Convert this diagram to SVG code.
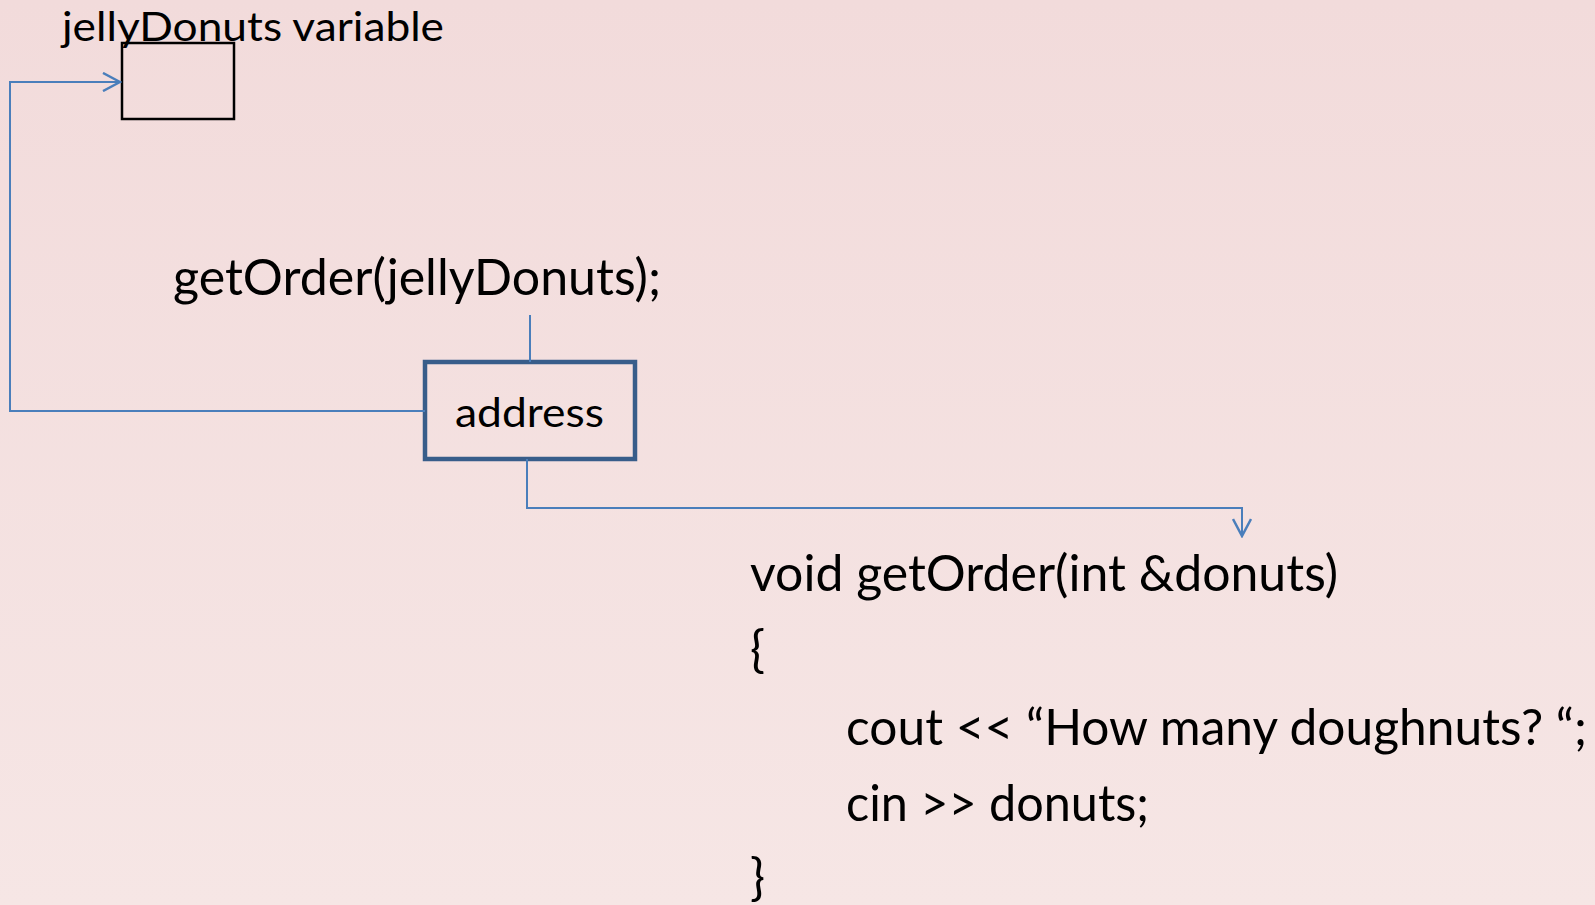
<svg xmlns="http://www.w3.org/2000/svg" width="1595" height="905" viewBox="0 0 1595 905">
  <defs>
    <linearGradient id="bg" x1="0" y1="0" x2="0" y2="1">
      <stop offset="0" stop-color="#f2dbdb"/>
      <stop offset="1" stop-color="#f6e6e5"/>
    </linearGradient>
    <marker id="open-arrow" viewBox="0 0 20 20" refX="18" refY="10" markerWidth="20" markerHeight="20" markerUnits="userSpaceOnUse" orient="auto">
      <path d="M1,1 L18,10 L1,19" fill="none" stroke="#4a7ebb" stroke-width="2.5"/>
    </marker>
    <style>
      .txt { font-family: Lato, "Open Sans", "Liberation Sans", sans-serif; fill: #000; }
      .conn { fill: none; stroke: #4a7ebb; stroke-width: 2; }
    </style>
  </defs>

  <rect x="0" y="0" width="1595" height="905" fill="url(#bg)"/>

  <!-- variable cell -->
  <g id="jellyDonuts-var">
    <text class="txt" x="62" y="41" font-size="40" textLength="382" lengthAdjust="spacingAndGlyphs">jellyDonuts variable</text>
    <rect x="122" y="43" width="112" height="76" fill="none" stroke="#000" stroke-width="2.5"/>
  </g>

  <!-- call statement -->
  <g id="call">
    <text class="txt" x="173" y="295" font-size="50" textLength="488" lengthAdjust="spacingAndGlyphs">getOrder(jellyDonuts);</text>
  </g>

  <!-- passed address -->
  <g id="address">
    <rect x="425" y="362" width="210" height="97" fill="none" stroke="#385d8a" stroke-width="4.5"/>
    <text class="txt" x="455" y="427" font-size="41" textLength="149" lengthAdjust="spacingAndGlyphs">address</text>
  </g>

  <!-- function definition -->
  <g id="function">
    <text class="txt" x="750" y="591" font-size="50" textLength="588" lengthAdjust="spacingAndGlyphs">void getOrder(int &amp;donuts)</text>
    <text class="txt" x="750" y="667" font-size="50">{</text>
    <text class="txt" x="846" y="745" font-size="50" textLength="741" lengthAdjust="spacingAndGlyphs">cout &lt;&lt; “How many doughnuts? “;</text>
    <text class="txt" x="846" y="821" font-size="50" textLength="303" lengthAdjust="spacingAndGlyphs">cin &gt;&gt; donuts;</text>
    <text class="txt" x="750" y="895" font-size="50">}</text>
  </g>

  <!-- connectors -->
  <g id="connectors">
    <line class="conn" x1="530" y1="315" x2="530" y2="362"/>
    <polyline class="conn" points="425,411 10,411 10,82 120,82" marker-end="url(#open-arrow)"/>
    <polyline class="conn" points="527,459 527,508 1242,508 1242,536" marker-end="url(#open-arrow)"/>
  </g>
</svg>
